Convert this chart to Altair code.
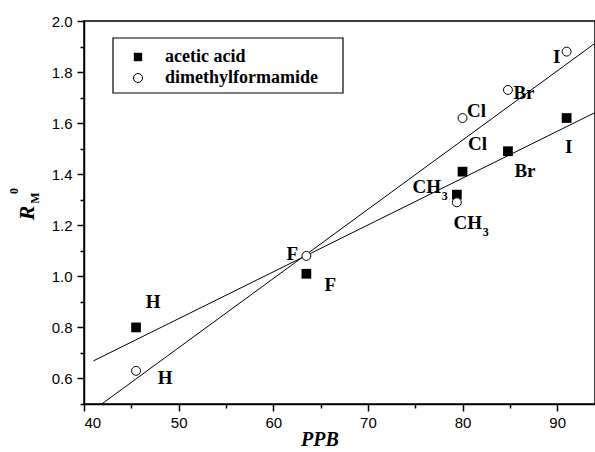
import altair as alt
import pandas as pd

# ---- data ----
substituents = ["H", "F", "CH3", "Cl", "Br", "I"]
ppb = [45.5, 63.5, 79.4, 80.0, 84.8, 91.0]
rm_acetic = [0.80, 1.01, 1.32, 1.41, 1.49, 1.62]
rm_dmf = [0.63, 1.08, 1.29, 1.62, 1.73, 1.88]
series = ["acetic acid", "dimethylformamide"]
x_ticks = list(range(40, 95, 5))
y_ticks = [round(0.5 + 0.1 * i, 1) for i in range(16)]

df = pd.DataFrame({
    "sub": substituents * 2,
    "ppb": ppb * 2,
    "rm": rm_acetic + rm_dmf,
    "solvent": [series[0]] * 6 + [series[1]] * 6,
})

# label placement (pixel offsets from each point)
label_offsets = {
    ("acetic acid", "H"): (17, -25),
    ("acetic acid", "F"): (24, 11),
    ("acetic acid", "CH3"): (-30, -8),
    ("acetic acid", "Cl"): (15, -28),
    ("acetic acid", "Br"): (17, 20),
    ("acetic acid", "I"): (2, 29),
    ("dimethylformamide", "H"): (29, 7),
    ("dimethylformamide", "F"): (-14, -2),
    ("dimethylformamide", "CH3"): (11, 21),
    ("dimethylformamide", "Cl"): (14, -7),
    ("dimethylformamide", "Br"): (16, 3),
    ("dimethylformamide", "I"): (-10, 5),
}

SERIF = "Liberation Serif"
SANS = "Liberation Sans"

x_axis = alt.Axis(
    values=x_ticks, title=None, grid=False,
    labelExpr="datum.value % 10 == 0 ? format(datum.value, 'd') : ''",
    tickSize={"condition": {"test": "datum.value % 10 == 0", "value": 7}, "value": 4},
    labelFont=SANS, labelFontSize=15, labelColor="black", labelPadding=4,
    domainColor="black", domainWidth=1.5, tickColor="black", tickWidth=1.5,
)
major_y = "abs(datum.value * 5 - round(datum.value * 5)) < 0.001"
y_axis = alt.Axis(
    values=y_ticks, title=None, grid=False,
    labelExpr=f"({major_y}) && datum.value > 0.55 ? format(datum.value, '.1f') : ''",
    tickSize={"condition": {"test": major_y, "value": 7}, "value": 4},
    labelFont=SANS, labelFontSize=15, labelColor="black", labelPadding=5,
    domainColor="black", domainWidth=1.5, tickColor="black", tickWidth=1.5,
)

X = alt.X("ppb:Q", scale=alt.Scale(domain=[40, 94], nice=False, zero=False), axis=x_axis)
Y = alt.Y("rm:Q", scale=alt.Scale(domain=[0.5, 2.0], nice=False, zero=False), axis=y_axis)

base = alt.Chart(df)

squares = base.transform_filter(alt.datum.solvent == series[0]).mark_point(
    shape="square", filled=True, color="black", size=95, opacity=1
).encode(x=X, y=Y)

circles = base.transform_filter(alt.datum.solvent == series[1]).mark_point(
    shape="circle", filled=True, fill="white", stroke="black", strokeWidth=1,
    size=80, opacity=1
).encode(x=X, y=Y)

fits = base.transform_regression(
    "ppb", "rm", groupby=["solvent"], extent=[41, 94]
).mark_line(color="black", strokeWidth=1, clip=True).encode(x=X, y=Y, detail="solvent:N")

layers = [fits, squares, circles]

for (solv, sub), (dx, dy) in label_offsets.items():
    sel = base.transform_filter((alt.datum.solvent == solv) & (alt.datum["sub"] == sub))
    main_txt = "CH" if sub == "CH3" else sub
    layers.append(sel.mark_text(
        text=main_txt, dx=dx, dy=dy, font=SERIF, fontWeight="bold", fontSize=19,
        color="black", align="center", baseline="middle"
    ).encode(x=X, y=Y))
    if sub == "CH3":
        layers.append(sel.mark_text(
            text="3", dx=dx + 18, dy=dy + 9, font=SERIF, fontWeight="bold",
            fontSize=12, color="black", align="center", baseline="middle"
        ).encode(x=X, y=Y))

one = pd.DataFrame({"k": [0]})

# legend
legend_box = alt.Chart(one).mark_rect(
    fill="white", stroke="black", strokeWidth=1.2
).encode(x=alt.value(29), x2=alt.value(259), y=alt.value(17), y2=alt.value(72))
leg_sq = alt.Chart(one).mark_point(
    shape="square", filled=True, color="black", size=70, opacity=1
).encode(x=alt.value(54), y=alt.value(36))
leg_ci = alt.Chart(one).mark_point(
    shape="circle", filled=True, fill="white", stroke="black", strokeWidth=1,
    size=80, opacity=1
).encode(x=alt.value(54), y=alt.value(57))
leg_t1 = alt.Chart(one).mark_text(
    text=series[0], font=SERIF, fontWeight="bold", fontSize=18, color="black",
    align="left", baseline="middle"
).encode(x=alt.value(81), y=alt.value(36))
leg_t2 = alt.Chart(one).mark_text(
    text=series[1], font=SERIF, fontWeight="bold", fontSize=18, color="black",
    align="left", baseline="middle"
).encode(x=alt.value(81), y=alt.value(57))

# axis titles
x_title = alt.Chart(one).mark_text(
    text="PPB", font=SERIF, fontWeight="bold", fontStyle="italic", fontSize=20,
    color="black", align="center", baseline="middle"
).encode(x=alt.value(236), y=alt.value(419))
y_title_r = alt.Chart(one).mark_text(
    text="R", font=SERIF, fontWeight="bold", fontStyle="italic", fontSize=22,
    color="black", align="center", baseline="middle", angle=270
).encode(x=alt.value(-57), y=alt.value(192))
y_title_m = alt.Chart(one).mark_text(
    text="M", font=SERIF, fontWeight="bold", fontSize=12,
    color="black", align="center", baseline="middle", angle=270
).encode(x=alt.value(-49), y=alt.value(177))
y_title_0 = alt.Chart(one).mark_text(
    text="0", font=SERIF, fontWeight="bold", fontSize=12,
    color="black", align="center", baseline="middle", angle=270
).encode(x=alt.value(-70), y=alt.value(170))

layers += [legend_box, leg_sq, leg_ci, leg_t1, leg_t2, x_title, y_title_r, y_title_m, y_title_0]

chart = alt.layer(*layers).properties(
    width=511, height=383,
    autosize=alt.AutoSizeParams(type="none"),
    padding={"left": 84, "top": 21, "right": 0, "bottom": 48},
    background="white",
).configure_view(stroke="black", strokeWidth=1.5)

chart.save("out.html", embed_options={"renderer": "svg", "actions": False})
